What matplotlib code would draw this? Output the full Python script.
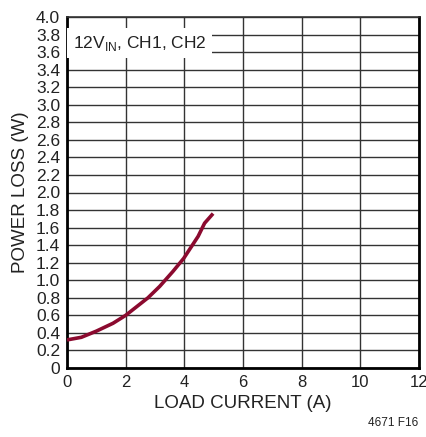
import matplotlib
matplotlib.use("Agg")
import matplotlib.pyplot as plt
import numpy as np

load_current = [0.0, 0.49, 1.0, 1.57, 2.0, 2.76, 3.16, 3.61, 3.98, 4.47, 4.69, 4.98]
power_loss = [0.32, 0.35, 0.42, 0.51, 0.60, 0.80, 0.93, 1.10, 1.25, 1.50, 1.65, 1.76]
x_ticks = [0, 2, 4, 6, 8, 10, 12]
y_ticks = [round(0.2 * i, 1) for i in range(21)]

plt.rcParams['font.family'] = ['Liberation Sans', 'DejaVu Sans']

fig = plt.figure(figsize=(4.27, 4.37), dpi=100)
ax = fig.add_axes([67/427, 69/437, 352/427, 351/437])

ax.plot(load_current, power_loss, color='#8b0a2f', lw=2.6, solid_capstyle='butt', zorder=3)

ax.set_xlim(0, 12)
ax.set_ylim(0, 4.0)
ax.set_xticks(x_ticks)
ax.set_yticks(y_ticks)
ax.set_yticklabels([("0" if v == 0 else f"{v:.1f}") for v in y_ticks])
ax.grid(True, color='#333333', lw=1.0)
ax.set_axisbelow(True)
ax.tick_params(axis='y', length=0, labelsize=12.5, pad=5, colors='#222222')
ax.tick_params(axis='x', length=0, labelsize=12, pad=5, colors='#222222')
for s in ['left', 'bottom', 'right']:
    ax.spines[s].set_linewidth(2.0)
    ax.spines[s].set_color('black')
ax.spines['top'].set_linewidth(1.2)
ax.spines['top'].set_color('#333333')

ax.set_xlabel('LOAD CURRENT (A)', fontsize=13.5, color='#222222', labelpad=4)
ax.set_ylabel('POWER LOSS (W)', fontsize=13.5, color='#222222', labelpad=5)

ax.text(0.2, 3.81, r'12V$_{\mathregular{IN}}$, CH1, CH2', fontsize=12.5, color='#222222',
        va='top', ha='left', zorder=4,
        bbox=dict(facecolor='white', edgecolor='none', pad=4))

fig.text(418/427, 8/437, '4671 F16', fontsize=8.5, ha='right', va='bottom', color='#222222')

fig.savefig('out.png', dpi=100)
